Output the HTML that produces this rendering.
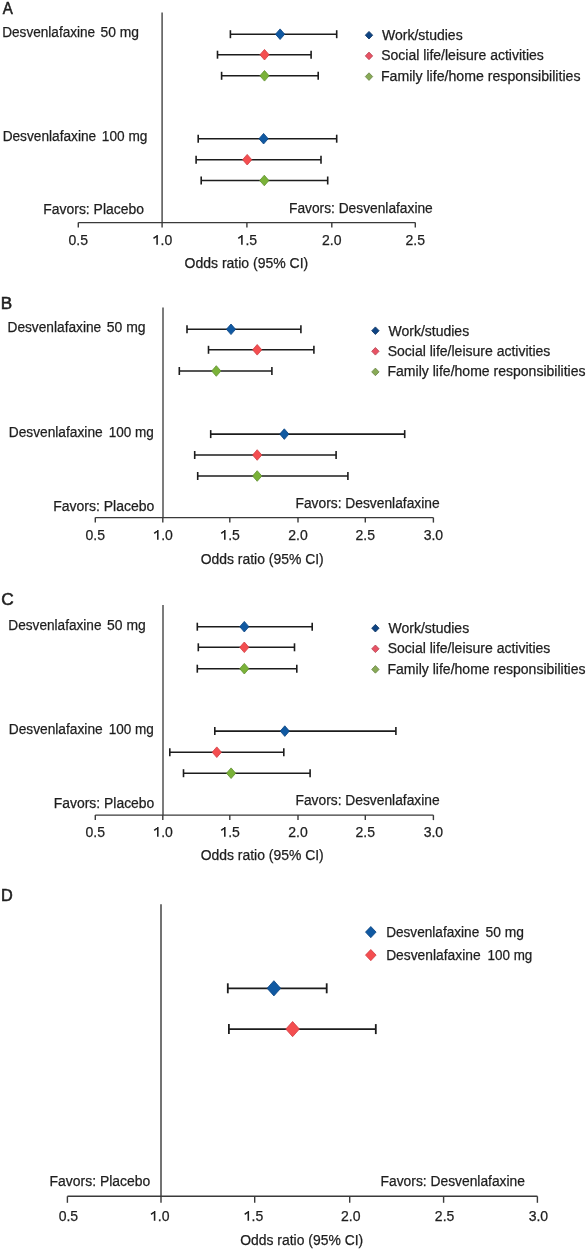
<!DOCTYPE html>
<html><head><meta charset="utf-8"><style>
html,body{margin:0;padding:0;background:#fff;width:587px;height:1250px;overflow:hidden}
svg{display:block;will-change:transform}
text{font-family:"Liberation Sans",sans-serif;fill:#1e1e1e;stroke:#1e1e1e;stroke-width:0.25px}
</style></head><body>
<svg width="587" height="1250" viewBox="0 0 587 1250">
<rect width="587" height="1250" fill="#fff"/>
<text x="2.67" y="14.00" font-size="16.00" textLength="10.04" lengthAdjust="spacingAndGlyphs" style="stroke-width:0.55px">A</text>
<text x="2.24" y="37.00" font-size="14.00" textLength="92.95" lengthAdjust="spacingAndGlyphs">Desvenlafaxine</text>
<text x="100.56" y="37.00" font-size="14.00" textLength="38.49" lengthAdjust="spacingAndGlyphs">50 mg</text>
<text x="2.64" y="141.00" font-size="14.00" textLength="93.58" lengthAdjust="spacingAndGlyphs">Desvenlafaxine</text>
<text x="101.82" y="141.00" font-size="14.00" textLength="45.57" lengthAdjust="spacingAndGlyphs">100 mg</text>
<text x="382.00" y="40.00" font-size="14.00">Work/studies</text>
<text x="381.21" y="60.00" font-size="14.00">Social life/leisure activities</text>
<text x="380.92" y="81.00" font-size="14.00" textLength="199.59" lengthAdjust="spacingAndGlyphs">Family life/home responsibilities</text>
<text x="43.34" y="214.00" font-size="14.00" textLength="100.58" lengthAdjust="spacingAndGlyphs">Favors: Placebo</text>
<text x="289.00" y="213.00" font-size="14.00" textLength="143.75" lengthAdjust="spacingAndGlyphs">Favors: Desvenlafaxine</text>
<text x="184.55" y="268.00" font-size="14.00" textLength="123.75" lengthAdjust="spacingAndGlyphs">Odds ratio (95% CI)</text>
<text x="0.83" y="309.00" font-size="16.00" textLength="11.39" lengthAdjust="spacingAndGlyphs" style="stroke-width:0.55px">B</text>
<text x="7.49" y="332.00" font-size="14.00" textLength="93.77" lengthAdjust="spacingAndGlyphs">Desvenlafaxine</text>
<text x="106.75" y="332.00" font-size="14.00" textLength="38.80" lengthAdjust="spacingAndGlyphs">50 mg</text>
<text x="8.73" y="437.00" font-size="14.00" textLength="93.97" lengthAdjust="spacingAndGlyphs">Desvenlafaxine</text>
<text x="108.72" y="437.00" font-size="14.00" textLength="45.14" lengthAdjust="spacingAndGlyphs">100 mg</text>
<text x="388.50" y="336.00" font-size="14.00">Work/studies</text>
<text x="387.65" y="356.00" font-size="14.00" textLength="162.71" lengthAdjust="spacingAndGlyphs">Social life/leisure activities</text>
<text x="387.51" y="376.00" font-size="14.00" textLength="198.02" lengthAdjust="spacingAndGlyphs">Family life/home responsibilities</text>
<text x="53.16" y="511.00" font-size="14.00" textLength="101.19" lengthAdjust="spacingAndGlyphs">Favors: Placebo</text>
<text x="295.54" y="508.00" font-size="14.00" textLength="144.09" lengthAdjust="spacingAndGlyphs">Favors: Desvenlafaxine</text>
<text x="200.66" y="564.00" font-size="14.00" textLength="123.08" lengthAdjust="spacingAndGlyphs">Odds ratio (95% CI)</text>
<text x="1.31" y="605.00" font-size="16.00" textLength="12.45" lengthAdjust="spacingAndGlyphs" style="stroke-width:0.55px">C</text>
<text x="8.37" y="630.00" font-size="14.00" textLength="93.18" lengthAdjust="spacingAndGlyphs">Desvenlafaxine</text>
<text x="107.11" y="630.00" font-size="14.00" textLength="38.66" lengthAdjust="spacingAndGlyphs">50 mg</text>
<text x="8.73" y="734.00" font-size="14.00" textLength="93.97" lengthAdjust="spacingAndGlyphs">Desvenlafaxine</text>
<text x="108.72" y="734.00" font-size="14.00" textLength="45.14" lengthAdjust="spacingAndGlyphs">100 mg</text>
<text x="388.50" y="633.00" font-size="14.00">Work/studies</text>
<text x="387.65" y="653.00" font-size="14.00" textLength="162.71" lengthAdjust="spacingAndGlyphs">Social life/leisure activities</text>
<text x="387.51" y="674.00" font-size="14.00" textLength="198.02" lengthAdjust="spacingAndGlyphs">Family life/home responsibilities</text>
<text x="53.75" y="808.00" font-size="14.00" textLength="100.61" lengthAdjust="spacingAndGlyphs">Favors: Placebo</text>
<text x="295.54" y="805.00" font-size="14.00" textLength="144.09" lengthAdjust="spacingAndGlyphs">Favors: Desvenlafaxine</text>
<text x="200.66" y="860.00" font-size="14.00" textLength="123.08" lengthAdjust="spacingAndGlyphs">Odds ratio (95% CI)</text>
<text x="0.95" y="901.00" font-size="16.00" textLength="11.77" lengthAdjust="spacingAndGlyphs" style="stroke-width:0.55px">D</text>
<text x="386.14" y="937.00" font-size="14.00" textLength="93.15" lengthAdjust="spacingAndGlyphs">Desvenlafaxine</text>
<text x="485.56" y="937.00" font-size="14.00" textLength="38.47" lengthAdjust="spacingAndGlyphs">50 mg</text>
<text x="386.14" y="960.00" font-size="14.00" textLength="94.47" lengthAdjust="spacingAndGlyphs">Desvenlafaxine</text>
<text x="487.59" y="960.00" font-size="14.00" textLength="44.72" lengthAdjust="spacingAndGlyphs">100 mg</text>
<text x="49.57" y="1186.00" font-size="14.00" textLength="100.71" lengthAdjust="spacingAndGlyphs">Favors: Placebo</text>
<text x="380.58" y="1186.00" font-size="14.00" textLength="144.40" lengthAdjust="spacingAndGlyphs">Favors: Desvenlafaxine</text>
<text x="240.26" y="1245.00" font-size="14.00" textLength="122.93" lengthAdjust="spacingAndGlyphs">Odds ratio (95% CI)</text>
<line x1="162.1" y1="12.6" x2="162.1" y2="222.6" stroke="#505050" stroke-width="1.5"/>
<line x1="78.3" y1="222.6" x2="415.3" y2="222.6" stroke="#3a3a3a" stroke-width="1.4"/>
<line x1="78.3" y1="222.6" x2="78.3" y2="227.6" stroke="#3a3a3a" stroke-width="1.4"/>
<text x="78.30" y="244.60" font-size="14.00" text-anchor="middle">0.5</text>
<line x1="162.1" y1="222.6" x2="162.1" y2="227.6" stroke="#3a3a3a" stroke-width="1.4"/>
<path d="M157.10 244.70V235.10M157.40 235.50L153.50 238.40" stroke="#1e1e1e" stroke-width="1.55" fill="none"/>
<text x="160.60" y="244.60" font-size="14.00">.0</text>
<line x1="246.9" y1="222.6" x2="246.9" y2="227.6" stroke="#3a3a3a" stroke-width="1.4"/>
<path d="M241.90 244.70V235.10M242.20 235.50L238.30 238.40" stroke="#1e1e1e" stroke-width="1.55" fill="none"/>
<text x="245.40" y="244.60" font-size="14.00">.5</text>
<line x1="331.8" y1="222.6" x2="331.8" y2="227.6" stroke="#3a3a3a" stroke-width="1.4"/>
<text x="331.80" y="244.60" font-size="14.00" text-anchor="middle">2.0</text>
<line x1="415.3" y1="222.6" x2="415.3" y2="227.6" stroke="#3a3a3a" stroke-width="1.4"/>
<text x="415.30" y="244.60" font-size="14.00" text-anchor="middle">2.5</text>
<line x1="230.4" y1="34.2" x2="336.7" y2="34.2" stroke="#1c1c1c" stroke-width="1.6"/>
<line x1="230.4" y1="30.200000000000003" x2="230.4" y2="38.2" stroke="#1c1c1c" stroke-width="1.6"/>
<line x1="336.7" y1="30.200000000000003" x2="336.7" y2="38.2" stroke="#1c1c1c" stroke-width="1.6"/>
<path d="M280.1 28.900000000000002L284.70000000000005 34.2L280.1 39.5L275.5 34.2Z" fill="#1059a2" stroke="#0a4280" stroke-width="0.8"/>
<line x1="217.5" y1="54.7" x2="311.1" y2="54.7" stroke="#1c1c1c" stroke-width="1.6"/>
<line x1="217.5" y1="50.7" x2="217.5" y2="58.7" stroke="#1c1c1c" stroke-width="1.6"/>
<line x1="311.1" y1="50.7" x2="311.1" y2="58.7" stroke="#1c1c1c" stroke-width="1.6"/>
<path d="M264.5 49.400000000000006L269.1 54.7L264.5 60.0L259.9 54.7Z" fill="#f44e50" stroke="#d03c42" stroke-width="0.8"/>
<line x1="221.6" y1="75.8" x2="318.2" y2="75.8" stroke="#1c1c1c" stroke-width="1.6"/>
<line x1="221.6" y1="71.8" x2="221.6" y2="79.8" stroke="#1c1c1c" stroke-width="1.6"/>
<line x1="318.2" y1="71.8" x2="318.2" y2="79.8" stroke="#1c1c1c" stroke-width="1.6"/>
<path d="M264.5 70.5L269.1 75.8L264.5 81.1L259.9 75.8Z" fill="#7ab238" stroke="#5f9030" stroke-width="0.8"/>
<line x1="198.2" y1="138.7" x2="336.7" y2="138.7" stroke="#1c1c1c" stroke-width="1.6"/>
<line x1="198.2" y1="134.7" x2="198.2" y2="142.7" stroke="#1c1c1c" stroke-width="1.6"/>
<line x1="336.7" y1="134.7" x2="336.7" y2="142.7" stroke="#1c1c1c" stroke-width="1.6"/>
<path d="M263.6 133.39999999999998L268.20000000000005 138.7L263.6 144.0L259.0 138.7Z" fill="#1059a2" stroke="#0a4280" stroke-width="0.8"/>
<line x1="196.1" y1="159.7" x2="321" y2="159.7" stroke="#1c1c1c" stroke-width="1.6"/>
<line x1="196.1" y1="155.7" x2="196.1" y2="163.7" stroke="#1c1c1c" stroke-width="1.6"/>
<line x1="321" y1="155.7" x2="321" y2="163.7" stroke="#1c1c1c" stroke-width="1.6"/>
<path d="M247.2 154.39999999999998L251.79999999999998 159.7L247.2 165.0L242.6 159.7Z" fill="#f44e50" stroke="#d03c42" stroke-width="0.8"/>
<line x1="201.2" y1="180.5" x2="327.7" y2="180.5" stroke="#1c1c1c" stroke-width="1.6"/>
<line x1="201.2" y1="176.5" x2="201.2" y2="184.5" stroke="#1c1c1c" stroke-width="1.6"/>
<line x1="327.7" y1="176.5" x2="327.7" y2="184.5" stroke="#1c1c1c" stroke-width="1.6"/>
<path d="M264.3 175.2L268.90000000000003 180.5L264.3 185.8L259.7 180.5Z" fill="#7ab238" stroke="#5f9030" stroke-width="0.8"/>
<path d="M369 31.400000000000002L372.7 35.2L369 39.0L365.3 35.2Z" fill="#0e4484" stroke="#08305e" stroke-width="0.8"/>
<path d="M369 52.10000000000001L372.7 55.900000000000006L369 59.7L365.3 55.900000000000006Z" fill="#e85264" stroke="#b44452" stroke-width="0.8"/>
<path d="M369 72.8L372.7 76.6L369 80.39999999999999L365.3 76.6Z" fill="#88aa56" stroke="#6a8448" stroke-width="0.8"/>
<line x1="163.0" y1="307.4" x2="163.0" y2="517.6" stroke="#505050" stroke-width="1.5"/>
<line x1="95.3" y1="517.6" x2="433.4" y2="517.6" stroke="#3a3a3a" stroke-width="1.4"/>
<line x1="95.3" y1="517.6" x2="95.3" y2="522.6" stroke="#3a3a3a" stroke-width="1.4"/>
<text x="95.30" y="539.80" font-size="14.00" text-anchor="middle">0.5</text>
<line x1="162.8" y1="517.6" x2="162.8" y2="522.6" stroke="#3a3a3a" stroke-width="1.4"/>
<path d="M157.80 539.70V530.10M158.10 530.50L154.20 533.40" stroke="#1e1e1e" stroke-width="1.55" fill="none"/>
<text x="161.20" y="539.80" font-size="14.00">.0</text>
<line x1="229.8" y1="517.6" x2="229.8" y2="522.6" stroke="#3a3a3a" stroke-width="1.4"/>
<path d="M224.80 539.70V530.10M225.10 530.50L221.20 533.40" stroke="#1e1e1e" stroke-width="1.55" fill="none"/>
<text x="228.20" y="539.80" font-size="14.00">.5</text>
<line x1="298.0" y1="517.6" x2="298.0" y2="522.6" stroke="#3a3a3a" stroke-width="1.4"/>
<text x="298.00" y="539.80" font-size="14.00" text-anchor="middle">2.0</text>
<line x1="365.3" y1="517.6" x2="365.3" y2="522.6" stroke="#3a3a3a" stroke-width="1.4"/>
<text x="365.30" y="539.80" font-size="14.00" text-anchor="middle">2.5</text>
<line x1="433.4" y1="517.6" x2="433.4" y2="522.6" stroke="#3a3a3a" stroke-width="1.4"/>
<text x="433.40" y="539.80" font-size="14.00" text-anchor="middle">3.0</text>
<line x1="187" y1="329.3" x2="300.9" y2="329.3" stroke="#1c1c1c" stroke-width="1.6"/>
<line x1="187" y1="325.3" x2="187" y2="333.3" stroke="#1c1c1c" stroke-width="1.6"/>
<line x1="300.9" y1="325.3" x2="300.9" y2="333.3" stroke="#1c1c1c" stroke-width="1.6"/>
<path d="M231 324.0L235.6 329.3L231 334.6L226.4 329.3Z" fill="#1059a2" stroke="#0a4280" stroke-width="0.8"/>
<line x1="208.5" y1="349.8" x2="313.9" y2="349.8" stroke="#1c1c1c" stroke-width="1.6"/>
<line x1="208.5" y1="345.8" x2="208.5" y2="353.8" stroke="#1c1c1c" stroke-width="1.6"/>
<line x1="313.9" y1="345.8" x2="313.9" y2="353.8" stroke="#1c1c1c" stroke-width="1.6"/>
<path d="M257.2 344.5L261.8 349.8L257.2 355.1L252.6 349.8Z" fill="#f44e50" stroke="#d03c42" stroke-width="0.8"/>
<line x1="179.3" y1="371" x2="271.9" y2="371" stroke="#1c1c1c" stroke-width="1.6"/>
<line x1="179.3" y1="367.0" x2="179.3" y2="375.0" stroke="#1c1c1c" stroke-width="1.6"/>
<line x1="271.9" y1="367.0" x2="271.9" y2="375.0" stroke="#1c1c1c" stroke-width="1.6"/>
<path d="M216.3 365.7L220.9 371L216.3 376.3L211.70000000000002 371Z" fill="#7ab238" stroke="#5f9030" stroke-width="0.8"/>
<line x1="210.7" y1="434.1" x2="404.7" y2="434.1" stroke="#1c1c1c" stroke-width="1.6"/>
<line x1="210.7" y1="430.1" x2="210.7" y2="438.1" stroke="#1c1c1c" stroke-width="1.6"/>
<line x1="404.7" y1="430.1" x2="404.7" y2="438.1" stroke="#1c1c1c" stroke-width="1.6"/>
<path d="M284.3 428.8L288.90000000000003 434.1L284.3 439.40000000000003L279.7 434.1Z" fill="#1059a2" stroke="#0a4280" stroke-width="0.8"/>
<line x1="194.7" y1="455" x2="336.1" y2="455" stroke="#1c1c1c" stroke-width="1.6"/>
<line x1="194.7" y1="451.0" x2="194.7" y2="459.0" stroke="#1c1c1c" stroke-width="1.6"/>
<line x1="336.1" y1="451.0" x2="336.1" y2="459.0" stroke="#1c1c1c" stroke-width="1.6"/>
<path d="M257.2 449.7L261.8 455L257.2 460.3L252.6 455Z" fill="#f44e50" stroke="#d03c42" stroke-width="0.8"/>
<line x1="197.7" y1="476" x2="347.9" y2="476" stroke="#1c1c1c" stroke-width="1.6"/>
<line x1="197.7" y1="472.0" x2="197.7" y2="480.0" stroke="#1c1c1c" stroke-width="1.6"/>
<line x1="347.9" y1="472.0" x2="347.9" y2="480.0" stroke="#1c1c1c" stroke-width="1.6"/>
<path d="M257.2 470.7L261.8 476L257.2 481.3L252.6 476Z" fill="#7ab238" stroke="#5f9030" stroke-width="0.8"/>
<path d="M375.4 326.9L379.09999999999997 330.7L375.4 334.5L371.7 330.7Z" fill="#0e4484" stroke="#08305e" stroke-width="0.8"/>
<path d="M375.4 347.5L379.09999999999997 351.3L375.4 355.1L371.7 351.3Z" fill="#e85264" stroke="#b44452" stroke-width="0.8"/>
<path d="M375.4 368.09999999999997L379.09999999999997 371.9L375.4 375.7L371.7 371.9Z" fill="#88aa56" stroke="#6a8448" stroke-width="0.8"/>
<line x1="163.0" y1="604.9" x2="163.0" y2="815.1" stroke="#505050" stroke-width="1.5"/>
<line x1="95.3" y1="815.1" x2="433.4" y2="815.1" stroke="#3a3a3a" stroke-width="1.4"/>
<line x1="95.3" y1="815.1" x2="95.3" y2="820.1" stroke="#3a3a3a" stroke-width="1.4"/>
<text x="95.30" y="837.30" font-size="14.00" text-anchor="middle">0.5</text>
<line x1="162.8" y1="815.1" x2="162.8" y2="820.1" stroke="#3a3a3a" stroke-width="1.4"/>
<path d="M157.80 836.70V827.10M158.10 827.50L154.20 830.40" stroke="#1e1e1e" stroke-width="1.55" fill="none"/>
<text x="161.20" y="837.30" font-size="14.00">.0</text>
<line x1="229.8" y1="815.1" x2="229.8" y2="820.1" stroke="#3a3a3a" stroke-width="1.4"/>
<path d="M224.80 836.70V827.10M225.10 827.50L221.20 830.40" stroke="#1e1e1e" stroke-width="1.55" fill="none"/>
<text x="228.20" y="837.30" font-size="14.00">.5</text>
<line x1="298.0" y1="815.1" x2="298.0" y2="820.1" stroke="#3a3a3a" stroke-width="1.4"/>
<text x="298.00" y="837.30" font-size="14.00" text-anchor="middle">2.0</text>
<line x1="365.3" y1="815.1" x2="365.3" y2="820.1" stroke="#3a3a3a" stroke-width="1.4"/>
<text x="365.30" y="837.30" font-size="14.00" text-anchor="middle">2.5</text>
<line x1="433.4" y1="815.1" x2="433.4" y2="820.1" stroke="#3a3a3a" stroke-width="1.4"/>
<text x="433.40" y="837.30" font-size="14.00" text-anchor="middle">3.0</text>
<line x1="197.3" y1="626.7" x2="312.2" y2="626.7" stroke="#1c1c1c" stroke-width="1.6"/>
<line x1="197.3" y1="622.7" x2="197.3" y2="630.7" stroke="#1c1c1c" stroke-width="1.6"/>
<line x1="312.2" y1="622.7" x2="312.2" y2="630.7" stroke="#1c1c1c" stroke-width="1.6"/>
<path d="M244.3 621.4000000000001L248.9 626.7L244.3 632.0L239.70000000000002 626.7Z" fill="#1059a2" stroke="#0a4280" stroke-width="0.8"/>
<line x1="198.3" y1="647.3" x2="294.5" y2="647.3" stroke="#1c1c1c" stroke-width="1.6"/>
<line x1="198.3" y1="643.3" x2="198.3" y2="651.3" stroke="#1c1c1c" stroke-width="1.6"/>
<line x1="294.5" y1="643.3" x2="294.5" y2="651.3" stroke="#1c1c1c" stroke-width="1.6"/>
<path d="M244.3 642.0L248.9 647.3L244.3 652.5999999999999L239.70000000000002 647.3Z" fill="#f44e50" stroke="#d03c42" stroke-width="0.8"/>
<line x1="197.3" y1="668.7" x2="296.8" y2="668.7" stroke="#1c1c1c" stroke-width="1.6"/>
<line x1="197.3" y1="664.7" x2="197.3" y2="672.7" stroke="#1c1c1c" stroke-width="1.6"/>
<line x1="296.8" y1="664.7" x2="296.8" y2="672.7" stroke="#1c1c1c" stroke-width="1.6"/>
<path d="M244.3 663.4000000000001L248.9 668.7L244.3 674.0L239.70000000000002 668.7Z" fill="#7ab238" stroke="#5f9030" stroke-width="0.8"/>
<line x1="214.8" y1="731.1" x2="395.9" y2="731.1" stroke="#1c1c1c" stroke-width="1.6"/>
<line x1="214.8" y1="727.1" x2="214.8" y2="735.1" stroke="#1c1c1c" stroke-width="1.6"/>
<line x1="395.9" y1="727.1" x2="395.9" y2="735.1" stroke="#1c1c1c" stroke-width="1.6"/>
<path d="M284.8 725.8000000000001L289.40000000000003 731.1L284.8 736.4L280.2 731.1Z" fill="#1059a2" stroke="#0a4280" stroke-width="0.8"/>
<line x1="169.8" y1="752.2" x2="283.8" y2="752.2" stroke="#1c1c1c" stroke-width="1.6"/>
<line x1="169.8" y1="748.2" x2="169.8" y2="756.2" stroke="#1c1c1c" stroke-width="1.6"/>
<line x1="283.8" y1="748.2" x2="283.8" y2="756.2" stroke="#1c1c1c" stroke-width="1.6"/>
<path d="M216.8 746.9000000000001L221.4 752.2L216.8 757.5L212.20000000000002 752.2Z" fill="#f44e50" stroke="#d03c42" stroke-width="0.8"/>
<line x1="183.5" y1="773.2" x2="310.1" y2="773.2" stroke="#1c1c1c" stroke-width="1.6"/>
<line x1="183.5" y1="769.2" x2="183.5" y2="777.2" stroke="#1c1c1c" stroke-width="1.6"/>
<line x1="310.1" y1="769.2" x2="310.1" y2="777.2" stroke="#1c1c1c" stroke-width="1.6"/>
<path d="M231.1 767.9000000000001L235.7 773.2L231.1 778.5L226.5 773.2Z" fill="#7ab238" stroke="#5f9030" stroke-width="0.8"/>
<path d="M375.4 624.4000000000001L379.09999999999997 628.2L375.4 632.0L371.7 628.2Z" fill="#0e4484" stroke="#08305e" stroke-width="0.8"/>
<path d="M375.4 645.0L379.09999999999997 648.8L375.4 652.5999999999999L371.7 648.8Z" fill="#e85264" stroke="#b44452" stroke-width="0.8"/>
<path d="M375.4 665.6L379.09999999999997 669.4L375.4 673.1999999999999L371.7 669.4Z" fill="#88aa56" stroke="#6a8448" stroke-width="0.8"/>
<line x1="161.0" y1="904.2" x2="161.0" y2="1196.3" stroke="#646464" stroke-width="1.8"/>
<line x1="67.4" y1="1196.3" x2="537.4" y2="1196.3" stroke="#3a3a3a" stroke-width="1.4"/>
<line x1="67.4" y1="1196.3" x2="67.4" y2="1202.8" stroke="#3a3a3a" stroke-width="1.4"/>
<text x="68.40" y="1220.80" font-size="14.00" text-anchor="middle">0.5</text>
<line x1="161.0" y1="1196.3" x2="161.0" y2="1202.8" stroke="#3a3a3a" stroke-width="1.4"/>
<path d="M154.60 1220.70V1211.10M154.90 1211.50L151.00 1214.40" stroke="#1e1e1e" stroke-width="1.55" fill="none"/>
<text x="157.80" y="1220.80" font-size="14.00">.0</text>
<line x1="254.7" y1="1196.3" x2="254.7" y2="1202.8" stroke="#3a3a3a" stroke-width="1.4"/>
<path d="M248.30 1220.70V1211.10M248.60 1211.50L244.70 1214.40" stroke="#1e1e1e" stroke-width="1.55" fill="none"/>
<text x="251.50" y="1220.80" font-size="14.00">.5</text>
<line x1="349.7" y1="1196.3" x2="349.7" y2="1202.8" stroke="#3a3a3a" stroke-width="1.4"/>
<text x="350.70" y="1220.80" font-size="14.00" text-anchor="middle">2.0</text>
<line x1="443.6" y1="1196.3" x2="443.6" y2="1202.8" stroke="#3a3a3a" stroke-width="1.4"/>
<text x="444.60" y="1220.80" font-size="14.00" text-anchor="middle">2.5</text>
<line x1="537.4" y1="1196.3" x2="537.4" y2="1202.8" stroke="#3a3a3a" stroke-width="1.4"/>
<text x="538.40" y="1220.80" font-size="14.00" text-anchor="middle">3.0</text>
<line x1="227.8" y1="988.3" x2="326.7" y2="988.3" stroke="#1c1c1c" stroke-width="1.8"/>
<line x1="227.8" y1="983.3" x2="227.8" y2="993.3" stroke="#1c1c1c" stroke-width="1.8"/>
<line x1="326.7" y1="983.3" x2="326.7" y2="993.3" stroke="#1c1c1c" stroke-width="1.8"/>
<path d="M273.9 980.6999999999999L280.7 988.3L273.9 995.9L267.09999999999997 988.3Z" fill="#1059a2" stroke="#0a4280" stroke-width="0.8"/>
<line x1="228.9" y1="1029.1" x2="375.8" y2="1029.1" stroke="#1c1c1c" stroke-width="1.8"/>
<line x1="228.9" y1="1024.1" x2="228.9" y2="1034.1" stroke="#1c1c1c" stroke-width="1.8"/>
<line x1="375.8" y1="1024.1" x2="375.8" y2="1034.1" stroke="#1c1c1c" stroke-width="1.8"/>
<path d="M292.6 1021.4999999999999L299.40000000000003 1029.1L292.6 1036.6999999999998L285.8 1029.1Z" fill="#f44e50" stroke="#d03c42" stroke-width="0.8"/>
<path d="M370.8 926.5L376.1 932.1L370.8 937.7L365.5 932.1Z" fill="#1059a2" stroke="#0a4280" stroke-width="0.8"/>
<path d="M370.8 949.5L376.1 955.1L370.8 960.7L365.5 955.1Z" fill="#f44e50" stroke="#d03c42" stroke-width="0.8"/>
</svg></body></html>
